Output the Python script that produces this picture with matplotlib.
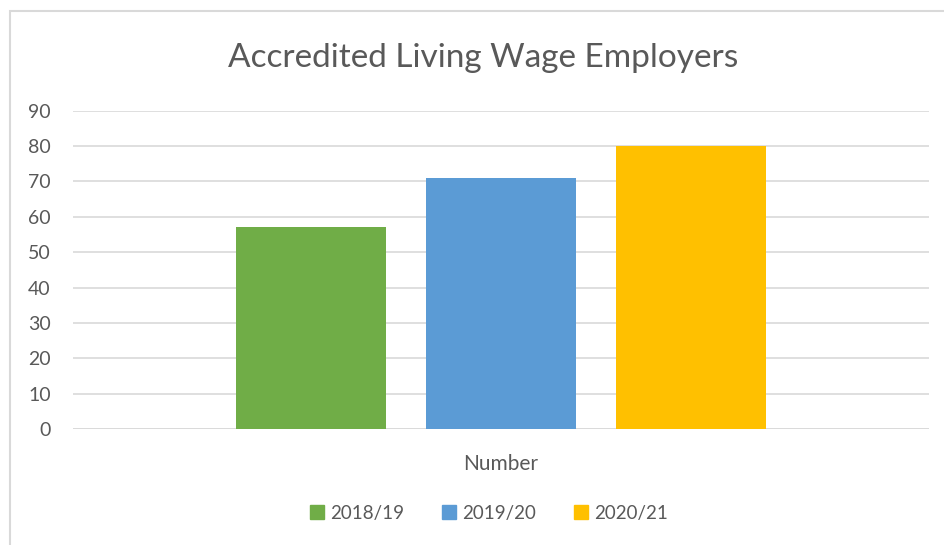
import matplotlib.pyplot as plt
from matplotlib.patches import Rectangle

# values
series = ["2018/19", "2019/20", "2020/21"]
values = [57, 71, 80]
colors = ["#70AD47", "#5B9BD5", "#FFC000"]
category = "Number"
title = "Accredited Living Wage Employers"
yticks = list(range(0, 100, 10))

plt.rcParams['font.family'] = ['Lato', 'DejaVu Sans']
text_color = "#595959"
grid_color = "#D9D9D9"

fig = plt.figure(figsize=(9.44, 5.45), dpi=100)
ax = fig.add_axes([0.0773, 0.2128, 0.9067, 0.5841])

positions = [i - (len(series) - 1) / 2 for i in range(len(series))]
ax.bar(positions, values, width=0.79, color=colors, zorder=3)

ax.set_xlim(-2.25, 2.25)
ax.set_ylim(0, 90)
ax.set_yticks(yticks)
ax.set_yticklabels([str(t) for t in yticks], fontsize=14, color=text_color)
ax.tick_params(axis='y', length=0, pad=16)
ax.set_xticks([0])
ax.set_xticklabels([category], fontsize=15, color=text_color)
ax.tick_params(axis='x', length=0, pad=18)

ax.grid(axis='y', color=grid_color, linewidth=1.2, zorder=0)
for s in ax.spines.values():
    s.set_visible(False)
ax.axhline(0, color=grid_color, linewidth=1.2, zorder=2)

fig.text(0.512, 0.893, title, fontsize=24, color=text_color,
         ha='center', va='center')

# legend at the bottom
handles = [Rectangle((0, 0), 1, 1, color=c) for c in colors]
fig.legend(handles, series, loc='center', bbox_to_anchor=(0.518, 0.058),
           ncol=3, frameon=False, fontsize=13.5, handlelength=0.75,
           handleheight=0.75, handletextpad=0.35, columnspacing=2.0,
           labelcolor=text_color)

# light chart border
fig.add_artist(Rectangle((0.0106, -0.05), 1.2, 1.03, transform=fig.transFigure,
                         fill=False, edgecolor=grid_color, linewidth=1.5))

fig.savefig("out.png", dpi=100)
